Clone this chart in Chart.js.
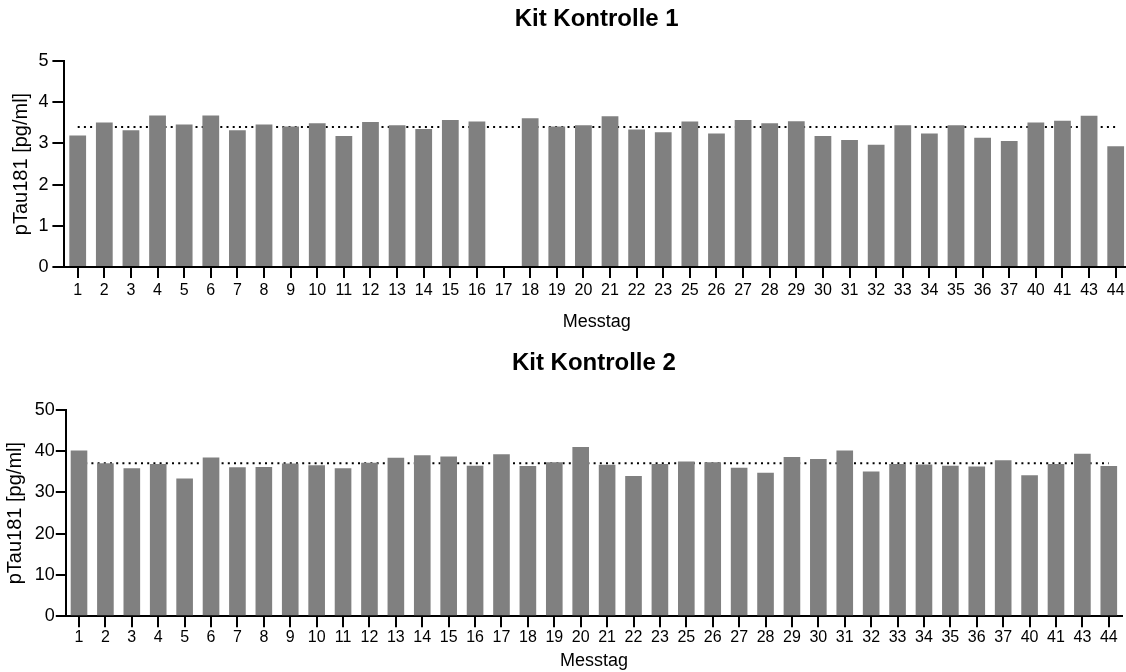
<!DOCTYPE html>
<html>
<head>
<meta charset="utf-8">
<script src="https://cdn.jsdelivr.net/npm/chart.js@4"></script>
<style>
  html, body { margin: 0; padding: 0; background: #fff; overflow: hidden; }
  canvas { display: block; }
</style>
</head>
<body>
<canvas id="kit1" width="1129" height="335"></canvas>
<canvas id="kit2" width="1126" height="337"></canvas>
<script>
"use strict";

const days = [
  "1", "2", "3", "4", "5", "6", "7", "8", "9", "10", "11", "12", "13", "14",
  "15", "16", "17", "18", "19", "20", "21", "22", "23", "25", "26", "27", "28",
  "29", "30", "31", "32", "33", "34", "35", "36", "37", "40", "41", "43", "44",
];

const kit1 = [
  3.19, 3.51, 3.32, 3.68, 3.46, 3.68, 3.32, 3.46, 3.41, 3.49, 3.18, 3.52, 3.44, 3.35,
  3.57, 3.53, null, 3.61, 3.41, 3.44, 3.66, 3.34, 3.27, 3.53, 3.24, 3.57, 3.49,
  3.54, 3.18, 3.08, 2.97, 3.44, 3.24, 3.44, 3.14, 3.06, 3.51, 3.55, 3.67, 2.93,
];
const kit1Mean = 3.40;

const kit2 = [
  40.2, 37.1, 35.9, 36.9, 33.4, 38.5, 36.1, 36.2, 37.0, 36.6, 35.9, 37.2, 38.4, 39.0,
  38.7, 36.5, 39.3, 36.4, 37.3, 41.0, 36.7, 34.0, 36.9, 37.5, 37.3, 36.0, 34.8,
  38.6, 38.1, 40.2, 35.1, 36.9, 36.8, 36.5, 36.3, 37.8, 34.2, 36.9, 39.4, 36.4,
];
const kit2Mean = 37.1;

const FONT = '"Liberation Sans", Arial, Helvetica, sans-serif';
const BAR = "#808080";

Chart.defaults.font.family = FONT;
Chart.defaults.color = "#000";

function controlChart(id, title, values, mean, opt) {
  new Chart(document.getElementById(id), {
    data: {
      labels: days,
      datasets: [
        {
          type: "bar",
          data: values,
          backgroundColor: BAR,
          barPercentage: 0.63,
          categoryPercentage: 1,
          order: 1,
        },
        {
          // dotted mean line, sits behind the bars
          type: "line",
          data: [{ x: days[0], y: mean }, { x: days[days.length - 1], y: mean }],
          borderColor: "#000",
          borderWidth: 2,
          borderDash: [2, 4.2],
          pointRadius: 0,
          fill: false,
          order: 2,
        },
      ],
    },
    options: {
      responsive: false,
      animation: false,
      devicePixelRatio: 1,
      layout: { padding: opt.pad },
      plugins: {
        legend: { display: false },
        tooltip: { enabled: false },
        title: {
          display: true,
          text: title,
          fullSize: false,
          color: "#000",
          font: { size: 24, weight: "bold" },
          padding: opt.titlePad,
        },
      },
      scales: {
        x: {
          type: "category",
          offset: true,
          grid: {
            offset: false,
            drawOnChartArea: false,
            drawTicks: true,
            tickLength: 11,
            color: "#000",
            lineWidth: 2,
          },
          border: { color: "#000", width: 2 },
          ticks: { font: { size: 16 }, color: "#000", padding: opt.xTickPad, maxRotation: 0, autoSkip: false },
          title: {
            display: true,
            text: "Messtag",
            color: "#000",
            font: { size: 18 },
            padding: { top: opt.xTitlePad, bottom: 0 },
          },
        },
        y: {
          min: 0,
          max: opt.max,
          afterFit: (s) => { s.width = opt.yWidth; },
          grid: {
            drawOnChartArea: false,
            tickLength: opt.yTick,
            color: "#000",
            lineWidth: 2,
          },
          border: { color: "#000", width: 2 },
          ticks: { stepSize: opt.step, font: { size: 18 }, color: "#000", padding: opt.yTickPad },
          title: {
            display: true,
            text: "pTau181 [pg/ml]",
            color: "#000",
            font: { size: 20 },
            padding: { top: opt.yTitlePad, bottom: 0 },
          },
        },
      },
    },
  });
}

controlChart("kit1", "Kit Kontrolle 1", kit1, kit1Mean, {
  max: 5, step: 1,
  pad: { left: 0, right: 0, top: 0, bottom: 2.2 },
  titlePad: { top: 4.6, bottom: 27.6 },
  xTickPad: 3, xTitlePad: 8,
  yWidth: 64.4, yTick: 12, yTickPad: 4, yTitlePad: 9,
});

controlChart("kit2", "Kit Kontrolle 2", kit2, kit2Mean, {
  max: 50, step: 10,
  pad: { left: 0, right: 4, top: 0, bottom: 0 },
  titlePad: { top: 13.6, bottom: 32.6 },
  xTickPad: 1, xTitlePad: 2,
  yWidth: 65.8, yTick: 10, yTickPad: 1, yTitlePad: 3,
});
</script>
</body>
</html>
